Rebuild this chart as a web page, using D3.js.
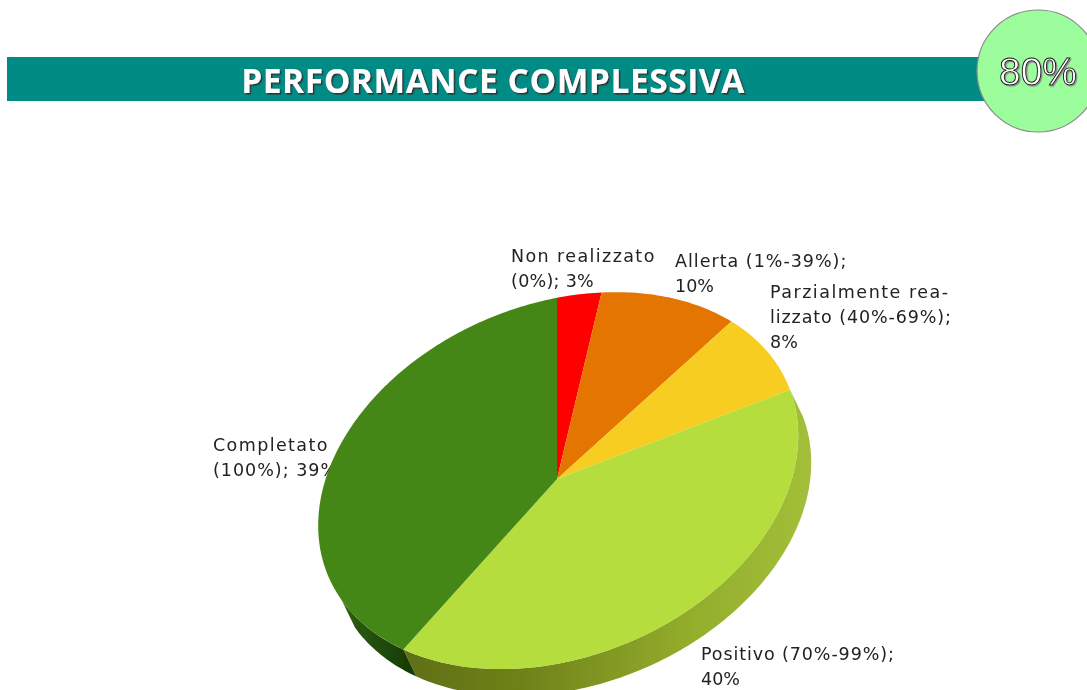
<!DOCTYPE html>
<html><head><meta charset="utf-8">
<script src="https://cdn.jsdelivr.net/npm/d3@7"></script>
<style>html,body{margin:0;background:#fff;overflow:hidden}svg{display:block}</style>
</head><body><svg id="c" width="1087" height="690"></svg>
<script>
const categories=["Non realizzato (0%)","Allerta (1%-39%)","Parzialmente realizzato (40%-69%)","Positivo (70%-99%)","Completato (100%)"];
const values=[3,10,8,40,39];
const colors=["#fe0000","#e47500","#f8cd20","#b5dd3c","#458716"];
const labelLines=[["Non realizzato","(0%); 3%"],["Allerta (1%-39%);","10%"],["Parzialmente rea-","lizzato (40%-69%);","8%"],["Positivo (70%-99%);","40%"],["Completato","(100%); 39%"]];
const labelAnchors=[[511,262],[675,267],[770,298],[701,660],[213,451]];
const labelSpacing=[[1.4,0.3],[1,0],[1.5,0.9,0],[0.9,0],[1.4,1]];
const title="PERFORMANCE COMPLESSIVA", badge="80%";

const svg=d3.select("#c"), defs=svg.append("defs");
// projection of the tilted pie plane
const cx=557,cy=479,P={a:240,c:-45,d:183,g:-0.005,h:-0.01};
const project=(t,dx=0,dy=0)=>{const x=Math.sin(t),y=-Math.cos(t),w=1+P.g*x+P.h*y;
  return [cx+dx+P.a*x/w,cy+dy+(P.c*x+P.d*y)/w];};
const sideDx=13,sideDy=27;
const line=d3.line();
const arcPts=(a0,a1,dx,dy)=>d3.range(0,1.0001,1/Math.max(2,Math.ceil((a1-a0)*60))).map(f=>project(a0+(a1-a0)*f,dx,dy));
const arcs=d3.pie().sort(null).value(d=>d)(values);

const f=defs.append("filter").attr("id","soft").attr("x","-5%").attr("y","-5%").attr("width","110%").attr("height","110%");
f.append("feGaussianBlur").attr("stdDeviation",0.7);
const ts=defs.append("filter").attr("id","tsoft");ts.append("feGaussianBlur").attr("stdDeviation",0.35);
const sh=defs.append("filter").attr("id","shadow").attr("x","-5%").attr("y","-20%").attr("width","110%").attr("height","140%");
sh.append("feDropShadow").attr("dx",1.5).attr("dy",1.5).attr("stdDeviation",0.6).attr("flood-color","#333");
const sh2=defs.append("filter").attr("id","shadow2").attr("x","-5%").attr("y","-20%").attr("width","110%").attr("height","140%");
sh2.append("feDropShadow").attr("dx",1.2).attr("dy",1.2).attr("stdDeviation",0.5).attr("flood-color","#888");
const g1=defs.append("linearGradient").attr("id","sideLight").attr("gradientUnits","userSpaceOnUse")
  .attr("x1",402).attr("x2",812).attr("y1",0).attr("y2",0);
[[0,"#5f6f14"],[0.3,"#6f8219"],[0.7,"#93ad2c"],[1,"#a3bf38"]].forEach(s=>g1.append("stop").attr("offset",s[0]).attr("stop-color",s[1]));
const g2=defs.append("linearGradient").attr("id","sideDark").attr("gradientUnits","userSpaceOnUse")
  .attr("x1",335).attr("x2",412).attr("y1",0).attr("y2",0);
[[0,"#2f6410"],[1,"#173a05"]].forEach(s=>g2.append("stop").attr("offset",s[0]).attr("stop-color",s[1]));

// header
svg.append("rect").attr("x",7).attr("y",57).attr("width",990).attr("height",44).attr("fill","#008b85");
svg.append("text").attr("x",493).attr("y",93).attr("text-anchor","middle").attr("fill","#fff").attr("letter-spacing",0.55)
  .attr("font-family","'Open Sans'").attr("font-weight",700).attr("font-size",33.5).attr("filter","url(#shadow)").text(title);
svg.append("circle").attr("cx",1038).attr("cy",71).attr("r",61).attr("fill","#9bfd9b").attr("stroke","#8a8a8a").attr("stroke-width",1.2);
svg.append("text").attr("x",1038).attr("y",85).attr("text-anchor","middle").attr("fill","#fff").attr("stroke","#111").attr("stroke-width",0.9)
  .attr("font-family","'Liberation Sans'").attr("font-size",39).attr("filter","url(#shadow2)").text(badge);

// labels sit under the pie: the reference's "39%" is clipped by the slice
const lab=svg.append("g").attr("font-family","'DejaVu Sans'").attr("font-size",17.5).attr("fill","#222").attr("filter","url(#tsoft)");
labelLines.forEach((lines,i)=>{
  const t=lab.append("text").attr("aria-label",categories[i]);
  lines.forEach((s,j)=>t.append("tspan").attr("x",labelAnchors[i][0]).attr("y",labelAnchors[i][1]+j*25).attr("letter-spacing",labelSpacing[i][j]).text(s));
});

// pie
const pie=svg.append("g").attr("filter","url(#soft)");
const sideEnd=arcs[3].startAngle, sideSplit=arcs[3].endAngle, sideLast=sideSplit+0.42;
const sidePath=(a0,a1)=>line([...arcPts(a0,a1,0,0),...arcPts(a0,a1,sideDx,sideDy).reverse()])+"Z";
pie.append("path").attr("d",sidePath(sideEnd,sideSplit)).attr("fill","url(#sideLight)");
pie.append("path").attr("d",sidePath(sideSplit,sideLast)).attr("fill","url(#sideDark)");
pie.selectAll("path.slice").data(arcs).join("path").attr("class","slice")
  .attr("d",d=>line([[cx,cy],...arcPts(d.startAngle,d.endAngle,0,0)])+"Z")
  .attr("fill",(d,i)=>colors[i]);
</script></body></html>
